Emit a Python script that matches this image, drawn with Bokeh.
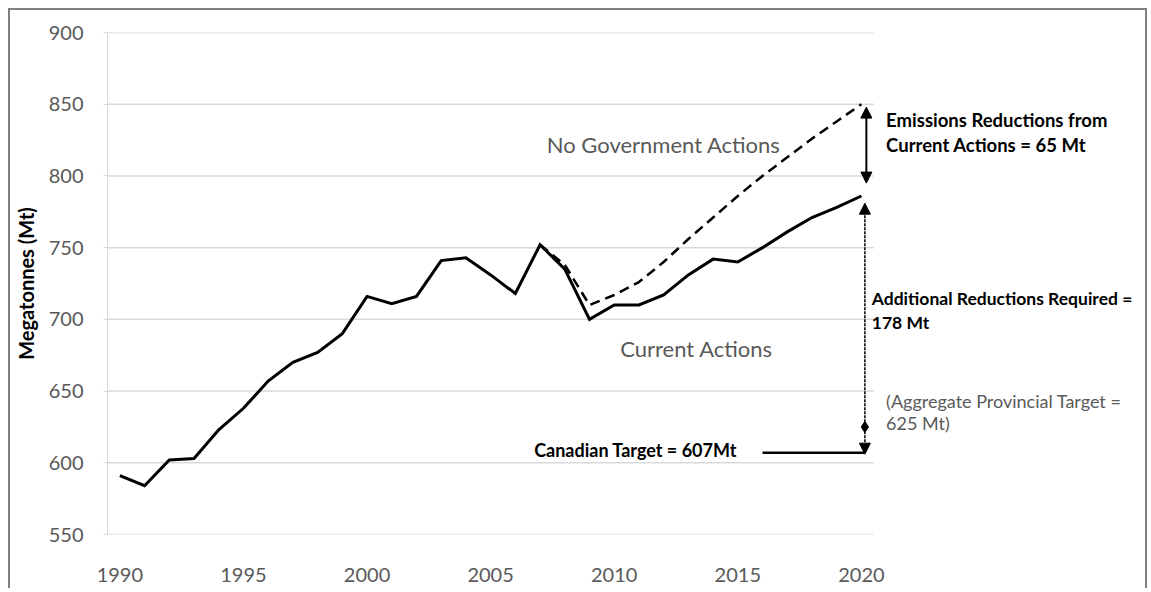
from bokeh.plotting import figure
from bokeh.models import Label, Arrow, NormalHead, FixedTicker, Range1d
from bokeh.embed import file_html
from bokeh.resources import INLINE

# ---- data ----
years = list(range(1990, 2021))
current_actions = [591, 584, 602, 603, 623, 638, 657, 670, 677, 690,
                   716, 711, 716, 741, 743, 731, 718, 752, 735, 700,
                   710, 710, 717, 731, 742, 740, 750, 761, 771, 778, 786]
no_gov_years = list(range(2007, 2021))
no_gov_actions = [752, 738, 710, 717, 726, 740, 756, 771, 786, 800, 813, 826, 838, 850]
canadian_target = 607
provincial_target = 625
x_ticks = [1990, 1995, 2000, 2005, 2010, 2015, 2020]
y_ticks = [550, 600, 650, 700, 750, 800, 850, 900]

FONT = "Lato"
GRAY = "#595959"
GRID = "#d9d9d9"

x_lo = years[0] - 0.5
x_hi = years[-1] + 0.5
px_per_year = 767 / (x_hi - x_lo)
frame_w = 1139 - 96
x_view_hi = x_lo + frame_w / px_per_year

p = figure(width=1139, height=580, output_backend="svg", toolbar_location=None,
           x_range=Range1d(x_lo, x_view_hi), y_range=Range1d(550, 900),
           min_border_left=96, min_border_right=0, min_border_top=22, min_border_bottom=56)
p.styles = {"margin-left": "8px", "margin-top": "8px",
            "border-top": "2px solid #808080", "border-left": "2px solid #808080",
            "border-right": "2px solid #808080"}
p.outline_line_color = None
p.background_fill_color = "white"
p.border_fill_color = "white"

p.xgrid.grid_line_color = None
p.ygrid.grid_line_color = None
# horizontal gridlines limited to the data span
p.segment(x0=[x_lo] * len(y_ticks), x1=[x_hi] * len(y_ticks), y0=y_ticks, y1=y_ticks,
          line_color=GRID, line_width=1.5)

p.yaxis.ticker = FixedTicker(ticks=y_ticks)
p.yaxis.axis_line_color = GRID
p.yaxis.major_tick_line_color = GRID
p.yaxis.major_tick_out = 4
p.yaxis.major_tick_in = 0
p.yaxis.minor_tick_line_color = None
p.yaxis.major_label_standoff = 20
p.yaxis.major_label_text_font = FONT
p.yaxis.major_label_text_font_size = "20px"
p.yaxis.major_label_text_color = GRAY
p.yaxis.axis_label = "Megatonnes (Mt)"
p.yaxis.axis_label_text_font = FONT
p.yaxis.axis_label_text_font_size = "20px"
p.yaxis.axis_label_text_font_style = "bold"
p.yaxis.axis_label_text_color = "#000000"
p.yaxis.axis_label_standoff = 8

p.xaxis.ticker = FixedTicker(ticks=x_ticks)
p.xaxis.axis_line_color = None
p.xaxis.major_tick_line_color = None
p.xaxis.minor_tick_line_color = None
p.xaxis.major_tick_out = 0
p.xaxis.major_label_standoff = 33
p.xaxis.major_label_text_font = FONT
p.xaxis.major_label_text_font_size = "20px"
p.xaxis.major_label_text_color = GRAY

# lines
p.line(no_gov_years, no_gov_actions, line_color="black", line_width=2.5, line_dash="10 6")
p.line(years, current_actions, line_color="black", line_width=3, line_join="miter")

x_end = years[-1]
xa = x_end + 0.2
xb = x_end + 0.14

# target horizontal line
p.line([x_end - 4.0, xb], [canadian_target, canadian_target], line_color="black", line_width=2.5)

head = dict(size=11, fill_color="black", line_color="black")
# upper arrow (65 Mt)
p.add_layout(Arrow(x_start=xa, y_start=current_actions[-1] + 9, x_end=xa, y_end=no_gov_actions[-1] - 2,
                   start=NormalHead(**head), end=NormalHead(**head),
                   line_color="black", line_width=2))
# lower arrow (178 Mt)
p.add_layout(Arrow(x_start=xb, y_start=canadian_target - 1, x_end=xb, y_end=current_actions[-1] - 5,
                   start=NormalHead(**head), end=NormalHead(**head),
                   line_color="black", line_width=1.5, line_dash="3 1"))
p.scatter([xb], [provincial_target], marker="diamond", size=11, fill_color="black", line_color="black")

def lab(x, y, text, size, bold=False, color="black", align="left"):
    p.add_layout(Label(x=x, y=y, text=text, text_font=FONT, text_font_size=size,
                       text_font_style="bold" if bold else "normal", text_color=color,
                       text_align=align, text_baseline="middle"))

lab(2012.0, 822, "No Government Actions", "22px", color=GRAY, align="center")
lab(2013.33, 680, "Current Actions", "22px", color=GRAY, align="center")
lab(2006.76, 609, "Canadian Target = 607Mt", "18px", bold=True)
lab(2021.0, 838.7, "Emissions Reductions from", "18.5px", bold=True)
lab(2021.0, 821.3, "Current Actions = 65 Mt", "18.5px", bold=True)
lab(2020.42, 714.6, "Additional Reductions Required =", "17.5px", bold=True)
lab(2020.42, 697.8, "178 Mt", "17.5px", bold=True)
lab(2021.0, 643.4, "(Aggregate Provincial Target =", "18px", color=GRAY)
lab(2021.0, 627.4, "625 Mt)", "18px", color=GRAY)

open("out.html", "w").write(file_html(p, INLINE))
